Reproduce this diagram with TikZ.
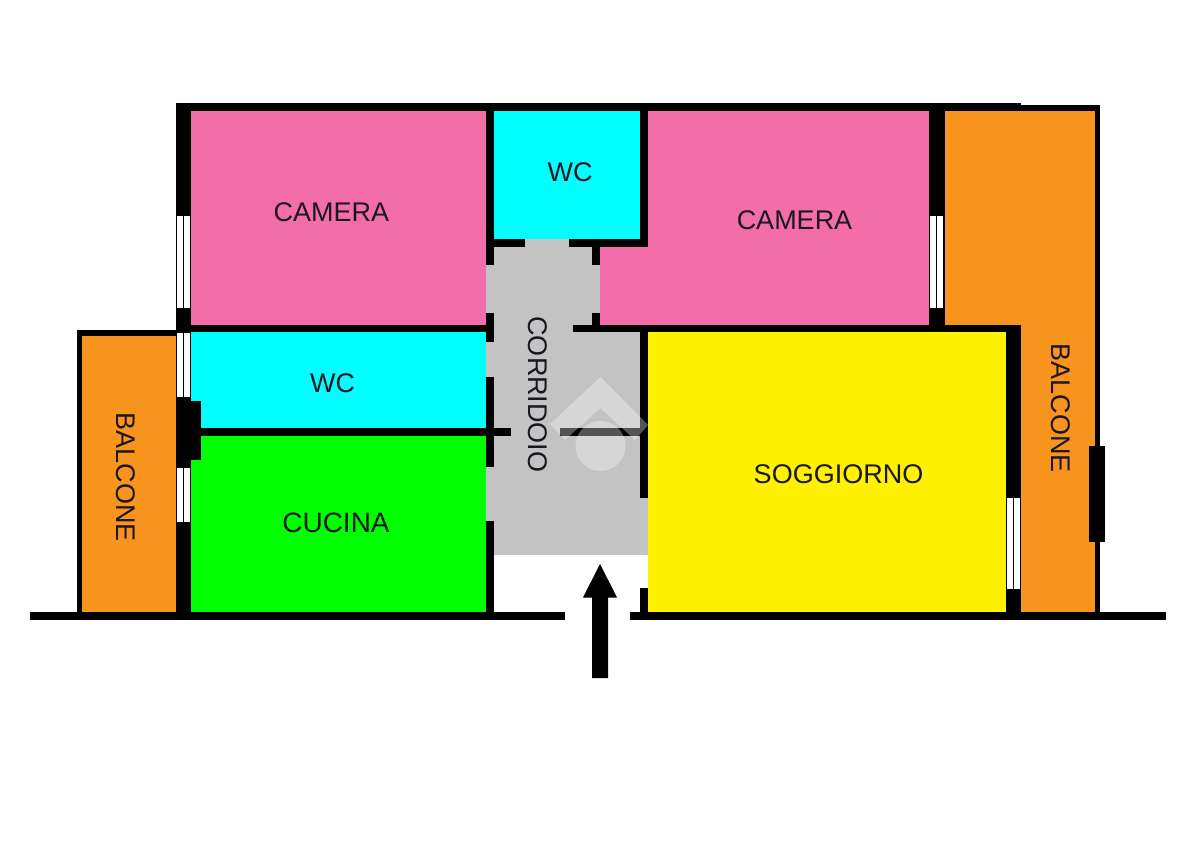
\documentclass[tikz,border=0pt]{standalone}
\usepackage{fontspec}
\setmainfont{Liberation Sans}
\definecolor{pinkroom}{HTML}{F36EA8}
\definecolor{cyanroom}{HTML}{00FFFF}
\definecolor{greenroom}{HTML}{00FF00}
\definecolor{yellowroom}{HTML}{FFF200}
\definecolor{orangeroom}{HTML}{F7941D}
\definecolor{greyroom}{HTML}{C3C3C3}
\definecolor{labelink}{HTML}{1C1622}
\tikzset{
  roomlabel/.style={text=labelink,inner sep=0pt,font=\fontsize{#1}{#1}\selectfont},
  roomlabel/.default=27,
  wall/.style={fill=black},
  glass/.style={fill=white}
}
\newcommand{\wallrect}[4]{\fill[wall] (#1,#2) rectangle (#3,#4);}
\newcommand{\winv}[3]{% left x, top, bottom: two vertical glass panes
  \fill[glass] (#1,#2) rectangle ++(6,#3-#2);
  \fill[glass] (#1+7,#2) rectangle ++(6,#3-#2);}
\begin{document}
\begin{tikzpicture}[x=1pt,y=-1pt]
\useasboundingbox (0,0) rectangle (1200,848);
\fill[white] (0,0) rectangle (1200,848);
% rooms
\fill[orangeroom] (945,111) -- (1095,111) -- (1095,612) -- (1021,612) -- (1021,325) -- (945,325) -- cycle;
\fill[orangeroom] (82,336) rectangle (176,612);
\fill[greyroom] (486,239) -- (600,239) -- (600,332) -- (648,332) -- (648,555) -- (486,555) -- cycle;
\fill[pinkroom] (191,111) rectangle (486,325);
\fill[pinkroom] (648,111) -- (929,111) -- (929,325) -- (600,325) -- (600,247) -- (648,247) -- cycle;
\fill[cyanroom] (494,111) rectangle (640,239);
\fill[cyanroom] (191,332) rectangle (486,428);
\fill[greenroom] (191,435) rectangle (486,612);
\fill[yellowroom] (648,332) rectangle (1006,612);
% outer walls
\wallrect{176}{103}{1021}{111}
\wallrect{1021}{105.5}{1100}{111}
\wallrect{176}{103}{191}{620}
\wallrect{929}{103}{945}{332}
\wallrect{1095}{105.5}{1100}{612}
\wallrect{1089}{446}{1105}{542}
\wallrect{77}{330}{176}{336}
\wallrect{77}{330}{82}{612}
\wallrect{176}{401}{201}{460}
\wallrect{30}{612}{565}{620}
\wallrect{630}{612}{1166}{620}
% inner walls
\wallrect{486}{111}{494}{265}
\wallrect{486}{313}{494}{342}
\wallrect{486}{377}{494}{467}
\wallrect{486}{521}{494}{612}
\wallrect{640}{111}{648}{247}
\wallrect{640}{332}{648}{498}
\wallrect{640}{588}{648}{612}
\wallrect{494}{239}{525}{247}
\wallrect{569}{239}{648}{247}
\wallrect{592}{247}{600}{265}
\wallrect{592}{313}{600}{325}
\wallrect{176}{325}{494}{332}
\wallrect{573}{325}{1021}{332}
\wallrect{191}{428}{511}{435.5}
\wallrect{560}{428}{648}{435.5}
\wallrect{1006}{332}{1021}{612}
% windows
\winv{177}{216}{308}
\winv{177}{333}{397}
\winv{177}{468}{522}
\winv{930}{216}{308}
\winv{1007}{498}{588.5}
% entrance arrow
\fill[black] (592,678) -- (592,597.5) -- (583,597.5) -- (600,564) -- (617,597.5) -- (608,597.5) -- (608,678) -- cycle;
% watermark
\fill[white,fill opacity=.33] (600.5,377) -- (648,425) -- (635,440) -- (600.5,408) -- (565,440) -- (550,424) -- cycle
  (600.5,446) circle[radius=25];
% labels
\node[roomlabel] (cameraL) at (331.5,212) {CAMERA};
\node[roomlabel] (cameraR) at (794.5,220) {CAMERA};
\node[roomlabel] (wcT) at (570,172) {WC};
\node[roomlabel] (wcL) at (332.5,383) {WC};
\node[roomlabel=28] (cucina) at (336,523) {CUCINA};
\node[roomlabel] (soggiorno) at (838.5,474) {SOGGIORNO};
\node[roomlabel,rotate=-90] (balconeL) at (125.5,477) {BALCONE};
\node[roomlabel,rotate=-90] (balconeR) at (1060.5,408) {BALCONE};
\node[roomlabel,rotate=-90] (corridoio) at (538,394.5) {CORRIDOIO};
\end{tikzpicture}
\end{document}
